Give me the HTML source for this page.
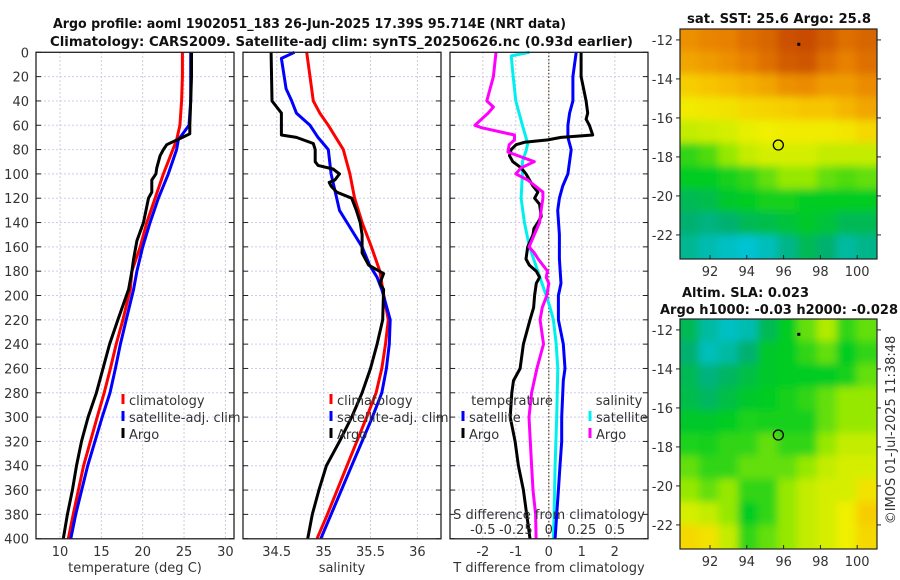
<!DOCTYPE html>
<html><head><meta charset="utf-8"><style>
body{margin:0;background:#fff;}
svg{display:block;font-family:"DejaVu Sans","Liberation Sans",sans-serif;}
.tk{font-size:13px;fill:#333;}
.ttl{font-size:13.5px;font-weight:bold;fill:#111;}
</style></head><body>
<svg id="fig" width="900" height="580" viewBox="0 0 900 580">
<defs>
<filter id="blur" x="-5%" y="-5%" width="110%" height="110%"><feGaussianBlur stdDeviation="4"/></filter>
<clipPath id="c1"><rect x="680" y="29" width="197" height="230"/></clipPath>
<clipPath id="c2"><rect x="680" y="319" width="197" height="230"/></clipPath>
</defs>
<text class="ttl" x="53" y="28" textLength="513" lengthAdjust="spacingAndGlyphs">Argo profile: aoml 1902051_183 26-Jun-2025 17.39S 95.714E (NRT data)</text>
<text class="ttl" x="50" y="46" textLength="583" lengthAdjust="spacingAndGlyphs">Climatology: CARS2009. Satellite-adj clim: synTS_20250626.nc (0.93d earlier)</text>
<text class="ttl" x="687" y="23" textLength="184" lengthAdjust="spacingAndGlyphs">sat. SST: 25.6 Argo: 25.8</text>
<text class="ttl" x="682" y="297" textLength="127" lengthAdjust="spacingAndGlyphs">Altim. SLA: 0.023</text>
<text class="ttl" x="660" y="314" textLength="238" lengthAdjust="spacingAndGlyphs">Argo h1000: -0.03 h2000: -0.028</text>
<text class="tk" transform="translate(895,430) rotate(-90)" text-anchor="middle">©IMOS 01-Jul-2025 11:38:48</text>
<g id="g"></g>
</svg>
<script>
// ---------- data ----------
const depthTClim=[0,20,40,60,72,100,120,140,160,180,195,220,240,260,280,300,340,380,400];
const tClim=[24.8,24.8,24.7,24.5,24.1,22.5,21.5,20.5,19.7,18.7,18.5,17.6,16.8,16.1,15.35,14.5,12.85,11.6,11.0];
const depthTSat=[0,40,60,72,80,100,120,140,160,180,195,220,240,260,280,300,340,380,400];
const tSat=[25.8,25.8,25.6,24.3,24.1,23.1,21.9,20.9,20.0,19.3,18.9,18.0,17.3,16.7,16.05,15.1,13.35,11.9,11.3];
const depthTArgo=[0,20,40,60,67,70,76,80,85,95,100,105,115,120,140,155,170,180,195,220,240,260,280,300,320,340,360,380,400];
const tArgo=[25.9,25.9,25.8,25.7,25.7,24.8,22.9,22.5,22.1,21.7,21.6,21.1,21.1,20.7,20.1,19.3,18.9,18.7,18.3,17.0,16.0,15.2,14.4,13.4,12.6,12.0,11.5,10.9,10.4];

const depthSClim=[0,20,40,50,60,80,100,120,140,160,180,195,220,240,260,280,300,340,380,400];
const sClim=[34.82,34.855,34.89,34.96,35.05,35.21,35.28,35.33,35.41,35.51,35.60,35.63,35.69,35.66,35.62,35.56,35.46,35.25,35.04,34.93];
const depthSSat=[0,5,30,40,50,60,70,80,100,120,130,140,160,175,185,195,220,240,260,280,300,340,380,400];
const sSat=[34.69,34.55,34.6,34.66,34.71,34.855,34.94,35.05,35.08,35.14,35.17,35.25,35.41,35.49,35.57,35.62,35.71,35.7,35.67,35.62,35.52,35.3,35.08,34.97];
const depthSArgo=[0,40,45,50,66,68,70,75,80,90,93,96,100,105,107,110,115,120,130,140,150,165,175,182,190,195,220,240,260,280,300,320,340,360,380,400];
const sArgo=[34.44,34.45,34.5,34.55,34.55,34.55,34.71,34.89,34.91,34.91,34.94,35.1,35.17,35.12,35.06,35.08,35.14,35.30,35.35,35.39,35.41,35.41,35.48,35.64,35.6,35.64,35.63,35.57,35.5,35.41,35.3,35.17,35.03,34.95,34.88,34.83];

const depthDT=[0,20,40,50,55,60,68,70,72,74,76,80,85,90,95,100,110,115,120,125,135,140,145,150,160,170,175,180,185,190,200,210,220,240,260,270,280,300,320,340,360,380,400];
const dTArgo=[0.98,0.98,1.13,1.18,1.13,1.23,1.33,0.37,-0.03,-0.74,-0.99,-1.14,-1.19,-1.09,-0.84,-0.69,-0.48,-0.33,-0.43,-0.28,-0.23,-0.33,-0.45,-0.48,-0.64,-0.69,-0.59,-0.38,-0.28,-0.38,-0.43,-0.46,-0.57,-0.77,-0.87,-1.07,-1.12,-1.17,-1.02,-0.92,-0.77,-0.67,-0.57];
const depthDTSat=[0,20,40,50,60,70,80,100,110,120,130,150,170,190,200,220,240,260,270,300,320,340,360,380,400];
const dTSat=[0.83,0.73,0.73,0.63,0.58,0.58,0.68,0.58,0.42,0.32,0.27,0.32,0.32,0.37,0.29,0.29,0.44,0.49,0.44,0.39,0.39,0.34,0.29,0.24,0.19];
const depthDSSat=[0,3,20,40,60,75,80,90,100,120,140,160,180,200,210,220,240,260,300,340,380,400];
const dSSat=[-0.146,-0.285,-0.27,-0.25,-0.2,-0.16,-0.17,-0.2,-0.2,-0.21,-0.185,-0.146,-0.083,-0.02,0.01,0.035,0.056,0.068,0.06,0.048,0.04,0.035];
const depthDSArgo=[0,20,40,45,50,60,62,68,72,76,82,86,90,95,100,105,115,120,130,140,150,160,165,170,180,185,190,200,210,220,240,260,280,300,320,340,360,380,400];
const dSArgo=[-0.4,-0.42,-0.47,-0.42,-0.46,-0.56,-0.51,-0.26,-0.26,-0.3,-0.31,-0.21,-0.11,-0.21,-0.25,-0.16,-0.045,-0.045,-0.058,-0.07,-0.11,-0.15,-0.11,-0.08,-0.01,-0.02,0,-0.015,-0.05,-0.066,-0.04,-0.09,-0.13,-0.15,-0.14,-0.13,-0.12,-0.10,-0.096];

const depthTicks=[0,20,40,60,80,100,120,140,160,180,200,220,240,260,280,300,320,340,360,380,400];
const tTicks=[10,15,20,25,30];
const sTicks=[34.5,35,35.5,36];
const dtTicks=[-2,-1,0,1,2];
const dsTicks=[-0.5,-0.25,0,0.25,0.5];
const dsTickLabels=["-0.5","-0.25","0","0.25","0.5"];
const lonTicks=[92,94,96,98,100];
const latTicks=[-12,-14,-16,-18,-20,-22];

// map grids (colour index 0..1), rows north->south, cols west->east
const sstGrid=[
[.84,.86,.87,.9,.92,.96,.97,.94,.9,.92],
[.8,.82,.84,.87,.9,.94,.95,.9,.87,.9],
[.72,.74,.76,.78,.8,.84,.85,.82,.82,.85],
[.66,.67,.68,.7,.71,.72,.74,.74,.77,.8],
[.6,.61,.62,.64,.65,.66,.66,.66,.67,.7],
[.45,.48,.55,.6,.62,.62,.62,.6,.6,.6],
[.4,.4,.42,.45,.5,.55,.55,.5,.48,.5],
[.3,.32,.38,.4,.42,.42,.4,.4,.4,.4],
[.25,.22,.25,.3,.32,.35,.38,.35,.3,.3],
[.18,.12,.08,.05,.1,.2,.3,.25,.15,.2]];
const slaGrid=[
[.3,.15,.08,.12,.3,.4,.5,.58,.45,.5],
[.25,.1,.15,.25,.38,.4,.45,.5,.4,.45],
[.3,.22,.28,.33,.38,.4,.4,.4,.42,.5],
[.32,.28,.33,.38,.4,.42,.45,.5,.55,.55],
[.38,.38,.4,.43,.42,.42,.42,.5,.55,.55],
[.43,.42,.45,.45,.5,.45,.45,.55,.6,.6],
[.5,.45,.45,.5,.5,.5,.55,.6,.62,.62],
[.55,.5,.55,.45,.45,.55,.6,.62,.62,.68],
[.62,.6,.55,.4,.45,.55,.6,.62,.65,.72],
[.7,.68,.6,.45,.5,.55,.6,.62,.65,.7]];
const argoLon=95.714, argoLat=-17.39;

// ---------- drawing ----------
const NS='http://www.w3.org/2000/svg';
const G=document.getElementById('g');
function mk(tag,at,parent){const e=document.createElementNS(NS,tag);for(const k in at)e.setAttribute(k,at[k]);(parent||G).appendChild(e);return e;}
const yD=d=>52.3+d*1.216;
const xT=t=>60+(t-10)*8.27;
const xS=s=>276.7+(s-34.5)*93.8;
const xDT=v=>548.8+v*33;
const xDS=v=>548.8+v*132;

function grid(x0,x1,xs){
  xs.forEach(x=>{const l=mk('line',{x1:x,x2:x,y1:52,y2:539,stroke:'#d8c8d8','stroke-width':1,'stroke-dasharray':'2,2'});
  });
  depthTicks.forEach(d=>{const l=mk('line',{x1:x0,x2:x1,y1:yD(d),y2:yD(d),stroke:'#c8d0ee','stroke-width':1,'stroke-dasharray':'2,2'});
  
  const a=mk('line',{x1:x0,x2:x0+5,y1:yD(d),y2:yD(d),stroke:'#222'});
  const b=mk('line',{x1:x1-5,x2:x1,y1:yD(d),y2:yD(d),stroke:'#222'});});
}
function line(ds,vs,fx,color,name,w){
  const p=ds.map((d,i)=>fx(vs[i]).toFixed(1)+','+yD(d).toFixed(1)).join(' ');
  const e=mk('polyline',{points:p,fill:'none',stroke:color,'stroke-width':w||3,'stroke-linejoin':'round'});
  
}
function frame(x0,x1,name){const r=mk('rect',{x:x0,y:52.3,width:x1-x0,height:486.5,fill:'none',stroke:'#222','stroke-width':1.3});
  }
function txt(x,y,s,anchor,name,cls){const t=mk('text',{x:x,y:y,'text-anchor':anchor||'middle',class:cls||'tk'});t.textContent=s;
  return t;}
function legMark(x,y,color){const l=mk('line',{x1:x,x2:x,y1:y-11,y2:y-1,stroke:color,'stroke-width':3});
  }

// panel 1
grid(36,234,tTicks.map(xT));
line(depthTClim,tClim,xT,'#f00','temp-climatology-line');
line(depthTSat,tSat,xT,'#00f','temp-satellite-line');
line(depthTArgo,tArgo,xT,'#000','temp-argo-line');
frame(36,234,'temperature-panel');
depthTicks.forEach(d=>txt(29,yD(d)+5,String(d),'end','depth-tick-label'));
tTicks.forEach(t=>txt(xT(t),556,String(t),'middle','temperature-tick-label'));
txt(135,572,'temperature (deg C)','middle','temperature-axis-title');
[['climatology','#f00'],['satellite-adj. clim','#00f'],['Argo','#000']].forEach((e,i)=>{legMark(123,405+i*17,e[1]);txt(129,405+i*17,e[0],'start','legend-entry');});

// panel 2
grid(243,441,sTicks.map(xS));
line(depthSClim,sClim,xS,'#f00','salinity-climatology-line');
line(depthSSat,sSat,xS,'#00f','salinity-satellite-line');
line(depthSArgo,sArgo,xS,'#000','salinity-argo-line');
frame(243,441,'salinity-panel');
sTicks.forEach(s=>txt(xS(s),556,String(s),'middle','salinity-tick-label'));
txt(342,572,'salinity','middle','salinity-axis-title');
[['climatology','#f00'],['satellite-adj. clim','#00f'],['Argo','#000']].forEach((e,i)=>{legMark(331,405+i*17,e[1]);txt(337,405+i*17,e[0],'start','legend-entry');});

// panel 3
grid(450,648,dtTicks.map(xDT));
const z=mk('line',{x1:xDT(0),x2:xDT(0),y1:52,y2:539,stroke:'#554422','stroke-width':1.2,'stroke-dasharray':'1.5,2'});

line(depthDSSat,dSSat,xDS,'#00f0f0','salinity-satellite-diff-line');
line(depthDTSat,dTSat,xDT,'#00f','temp-satellite-diff-line');
line(depthDT,dTArgo,xDT,'#000','temp-argo-diff-line');
line(depthDSArgo,dSArgo,xDS,'#f0f','salinity-argo-diff-line');
frame(450,648,'difference-panel');
dtTicks.forEach(v=>txt(xDT(v),556,String(v),'middle','t-diff-tick-label'));
txt(549,572,'T difference from climatology','middle','t-diff-axis-title');
dsTicks.forEach((v,i)=>txt(xDS(v),534,dsTickLabels[i],'middle','s-diff-tick-label'));
txt(549,519,'S difference from climatology','middle','s-diff-axis-title');
txt(512,405,'temperature','middle','legend-title');
txt(619,405,'salinity','middle','legend-title');
[['satellite','#00f',463],['Argo','#000',463],['satellite','#00f0f0',590],['Argo','#f0f',590]].forEach((e,i)=>{const y=422+(i%2)*17;legMark(e[2],y,e[1]);txt(e[2]+6,y,e[0],'start','legend-entry');});

// maps
const cmapStops=[[0,[0,200,235]],[0.25,[0,176,112]],[0.4,[0,204,32]],[0.55,[150,232,0]],[0.65,[240,240,0]],[0.75,[248,192,0]],[0.87,[232,128,0]],[1,[190,60,0]]];
function cmap(v){for(let i=1;i<cmapStops.length;i++){if(v<=cmapStops[i][0]){const a=cmapStops[i-1],b=cmapStops[i],f=(v-a[0])/(b[0]-a[0]);
  return 'rgb('+a[1].map((c,k)=>Math.round(c+(b[1][k]-c)*f)).join(',')+')';}}return 'rgb(190,60,0)';}
const lonL=90.37,lonR=101.07,latT=-11.44,latB=-23.23;
function drawMap(grid,top,clip,name){
  const xL=lon=>680+(lon-lonL)*18.4, yL=lat=>top+(latT-lat)*19.5;
  const bg=mk('g',{'clip-path':'url(#'+clip+')'});
  const inner=mk('g',{filter:'url(#blur)'},bg);
  const nr=grid.length,nc=grid[0].length,dLon=(lonR-lonL)/nc,dLat=(latT-latB)/nr;
  grid.forEach((row,r)=>row.forEach((v,c)=>{const x=xL(lonL+c*dLon),y=yL(latT-r*dLat);
    const ex=(c===0?-10:0),ey=(r===0?-10:0),ew=(c===nc-1?10:0),eh=(r===nr-1?10:0);
    const cell=mk('rect',{x:x-1+ex,y:y-1+ey,width:dLon*18.4+2-ex+ew,height:dLat*19.5+2-ey+eh,fill:cmap(v)},inner);
    }));
  const fr=mk('rect',{x:680,y:top,width:197,height:230,fill:'none',stroke:'#222','stroke-width':1.2});
  const ci=mk('circle',{cx:xL(argoLon),cy:yL(argoLat),r:5,fill:'none',stroke:'#000','stroke-width':1.3});
  const dot=mk('rect',{x:xL(96.8)-1,y:yL(-12.2)-1,width:3,height:3,fill:'#000'});
  lonTicks.forEach(l=>{const t=mk('line',{x1:xL(l),x2:xL(l),y1:top+230,y2:top+226,stroke:'#222'});
    txt(xL(l),top+247,String(l),'middle','lon-tick-label');});
  latTicks.forEach(l=>{const t=mk('line',{x1:877,x2:881,y1:yL(l),y2:yL(l),stroke:'#222'});
    const t2=mk('line',{x1:676,x2:680,y1:yL(l),y2:yL(l),stroke:'#222'});
    txt(673,yL(l)+5,String(l),'end','lat-tick-label');});
}
drawMap(sstGrid,29,'c1','sst-map');
drawMap(slaGrid,319,'c2','sla-map');
</script>
</body></html>
